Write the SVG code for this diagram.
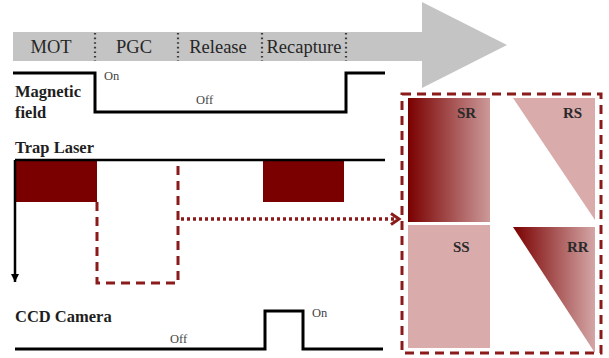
<svg xmlns="http://www.w3.org/2000/svg" width="609" height="358" viewBox="0 0 609 358">
<defs>
<style>
text{font-family:'Liberation Serif', 'DejaVu Serif', serif}
.lbl{font-weight:bold;font-size:16.5px;fill:#1e1e1e}
.phase{font-size:18.5px;fill:#262626;text-anchor:middle}
.small{font-size:12.5px;fill:#444}
.quad{font-weight:bold;font-size:15px;fill:#2a2a2a}
.sig{fill:none;stroke:#000;stroke-width:3}
.sep{stroke:#3a3a3a;stroke-width:2.2;stroke-dasharray:1.6 3}
.rdash{fill:none;stroke:#8b1a1a;stroke-width:3;stroke-dasharray:9 6}
.dark{fill:#7a0000}
.pink{fill:#d9abab}
</style>
<linearGradient id="gSR" x1="0" y1="0" x2="1" y2="0">
<stop offset="0" stop-color="#7a0000"/>
<stop offset="1" stop-color="#cc9999"/>
</linearGradient>
<linearGradient id="gRR" x1="0" y1="0" x2="1" y2="0">
<stop offset="0" stop-color="#7a0000"/>
<stop offset="1" stop-color="#d4a6a6"/>
</linearGradient>
<marker id="blk" markerWidth="10" markerHeight="10" refX="8" refY="5" orient="auto" markerUnits="userSpaceOnUse" viewBox="0 0 10 10">
<path d="M0,1 L8,5 L0,9 Z" fill="#000"/>
</marker>
</defs>

<g id="timeline">
<polygon points="13,32 422,32 422,2 507,45 422,88 422,61 13,61" fill="#c4c4c4"/>
<line class="sep" x1="95" y1="33" x2="95" y2="61"/>
<line class="sep" x1="178" y1="33" x2="178" y2="61"/>
<line class="sep" x1="262" y1="33" x2="262" y2="61"/>
<line class="sep" x1="346" y1="33" x2="346" y2="61"/>
<text class="phase" x="51" y="53" font-family="Liberation Serif">MOT</text>
<text class="phase" x="134" y="53" font-family="Liberation Serif">PGC</text>
<text class="phase" x="218" y="53" font-family="Liberation Serif">Release</text>
<text class="phase" x="304" y="53" font-family="Liberation Serif">Recapture</text>
</g>

<g id="magnetic-field">
<text class="lbl" x="15" y="97">Magnetic</text>
<text class="lbl" x="15" y="118">field</text>
<polyline class="sig" points="13,73 95,73 95,112 346,112 346,73 385,73"/>
<text class="small" x="104" y="80">On</text>
<text class="small" x="196" y="104">Off</text>
</g>

<g id="trap-laser">
<text class="lbl" x="15" y="153">Trap Laser</text>
<rect class="dark" x="15" y="160" width="82" height="42"/>
<rect class="dark" x="263" y="160" width="81" height="42"/>
<line x1="15" y1="160" x2="385" y2="160" stroke="#000" stroke-width="2.5"/>
</g>

<g id="ccd-camera">
<text class="lbl" x="15" y="322">CCD Camera</text>
<polyline class="sig" points="15,349 265,349 265,311 303,311 303,349 383,349"/>
<text class="small" x="170" y="343">Off</text>
<text class="small" x="312" y="317">On</text>
</g>

<g id="quadrants">
<rect x="408" y="98" width="82" height="124" fill="url(#gSR)"/>
<rect class="pink" x="408" y="225" width="82" height="123"/>
<polygon class="pink" points="513,98 595,98 595,220"/>
<polygon points="513,227 595,227 595,353" fill="url(#gRR)"/>
<text class="quad" x="457" y="118">SR</text>
<text class="quad" x="563" y="118">RS</text>
<text class="quad" x="453" y="252">SS</text>
<text class="quad" x="567" y="252">RR</text>
<rect class="rdash" x="402" y="94" width="199" height="259"/>
</g>

<g id="connectors">
<line x1="15" y1="160" x2="15" y2="282" stroke="#000" stroke-width="2.5" marker-end="url(#blk)"/>
<path class="rdash" d="M97,202 V283 H178 V160"/>
<line x1="181" y1="219" x2="396" y2="219" stroke="#8b1a1a" stroke-width="3.5" stroke-dasharray="3 3"/>
<polyline points="391,213.5 399,219 391,224.5" fill="none" stroke="#8b1a1a" stroke-width="3"/>
</g>
</svg>
